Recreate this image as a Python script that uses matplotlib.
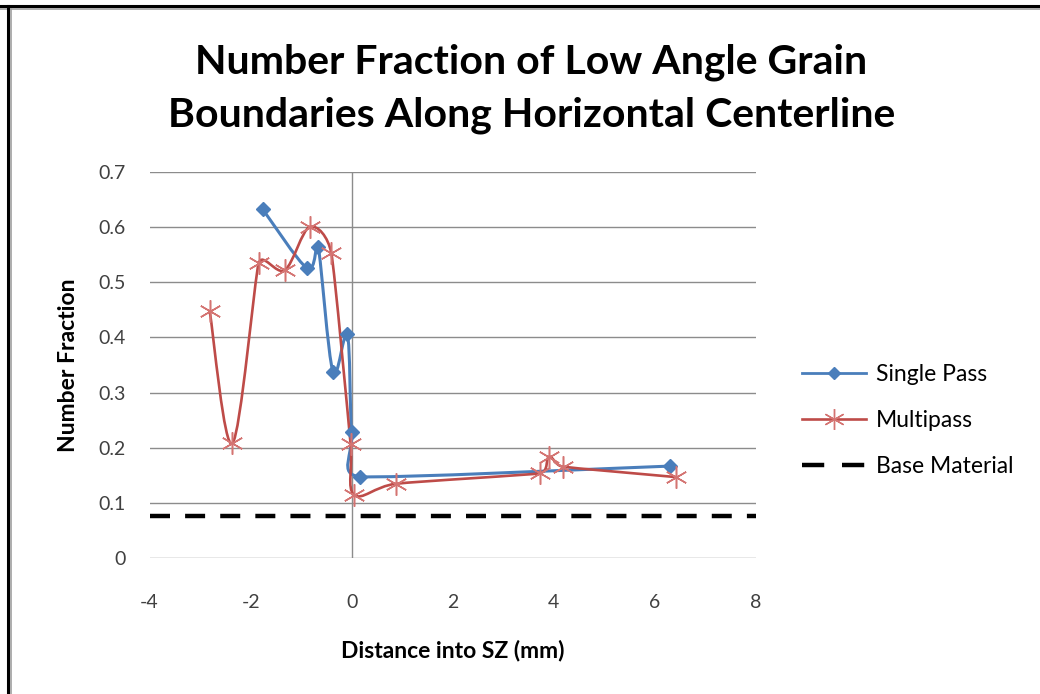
# number fraction of low angle grain boundaries along the horizontal centerline
import numpy as np
import matplotlib
matplotlib.use("Agg")
import matplotlib.pyplot as plt
from matplotlib.path import Path
from matplotlib.patches import PathPatch
from matplotlib.lines import Line2D

plt.rcParams['font.family'] = ['Lato', 'DejaVu Sans']
plt.rcParams['axes.unicode_minus'] = False

# --- data ---
single_x = [-1.76, -0.88, -0.66, -0.37, -0.085, 0.0, 0.16, 6.30]
single_y = [0.632, 0.525, 0.563, 0.338, 0.406, 0.228, 0.148, 0.167]

multi_x = [-2.81, -2.36, -1.84, -1.32, -0.83, -0.40, -0.02, 0.05, 0.88, 3.73, 3.91, 4.18, 6.43]
multi_y = [0.448, 0.208, 0.534, 0.522, 0.600, 0.552, 0.207, 0.115, 0.135, 0.154, 0.184, 0.166, 0.147]

base_level = 0.076

x_ticks = [-4, -2, 0, 2, 4, 6, 8]
y_ticks = [0, 0.1, 0.2, 0.3, 0.4, 0.5, 0.6, 0.7]
y_ticklabels = ["0", "0.1", "0.2", "0.3", "0.4", "0.5", "0.6", "0.7"]

BLUE = "#4A7EBB"
RED = "#BE4B48"
RED_MK = "#D47472"
GRID = "#8C8C8C"


def excel_smooth(ax, x, y):
    """bezier path like excel's 'smoothed line' (tangent = neighbours/6, capped at half segment)"""
    p = ax.transData.transform(np.column_stack([x, y]))
    n = len(p)

    def tangent(i):
        a = p[max(i - 1, 0)]
        b = p[min(i + 1, n - 1)]
        t = b - a
        L = np.hypot(*t)
        if L == 0:
            return np.zeros(2)
        caps = [L / 6.0]
        if i > 0:
            caps.append(np.hypot(*(p[i] - p[i - 1])) / 2.0)
        if i < n - 1:
            caps.append(np.hypot(*(p[i + 1] - p[i])) / 2.0)
        return t / L * min(caps)

    verts = [p[0]]
    codes = [Path.MOVETO]
    for i in range(n - 1):
        verts += [p[i] + tangent(i), p[i + 1] - tangent(i + 1), p[i + 1]]
        codes += [Path.CURVE4] * 3
    verts = ax.transData.inverted().transform(np.array(verts))
    return Path(verts, codes)


fig = plt.figure(figsize=(10.4, 6.94), dpi=100)
fig.patch.set_facecolor("white")
ax = fig.add_axes([0.1438, 0.1955, 0.5828, 0.5571])

ax.set_xlim(-4, 8)
ax.set_ylim(0, 0.7)
ax.set_xticks(x_ticks)
ax.set_yticks(y_ticks)
ax.set_yticklabels(y_ticklabels)
for s in ax.spines.values():
    s.set_visible(False)
ax.grid(axis="y", color=GRID, lw=1.0)
ax.set_axisbelow(True)
ax.axvline(0, color=GRID, lw=1.0, zorder=1)
ax.tick_params(axis="both", length=0, labelsize=14, labelcolor="#404040")
ax.tick_params(axis="y", pad=17)
ax.tick_params(axis="x", pad=26)

# base material reference
ax.axhline(base_level, color="black", lw=3.2, dashes=(4.5, 3.4), dash_capstyle="butt", zorder=2)

# smoothed series
ax.add_patch(PathPatch(excel_smooth(ax, single_x, single_y), fill=False,
                       edgecolor=BLUE, lw=2.2, zorder=3))
ax.plot(single_x, single_y, ls="none", marker="D", ms=7, color=BLUE, zorder=4)

ax.add_patch(PathPatch(excel_smooth(ax, multi_x, multi_y), fill=False,
                       edgecolor=RED, lw=1.9, zorder=3))
ax.plot(multi_x, multi_y, ls="none", marker=(6, 2, 0), ms=16, mew=1.1,
        color=RED_MK, zorder=4)

ax.set_xlabel("Distance into SZ (mm)", fontsize=16.5, fontweight="bold", labelpad=20)
ax.set_ylabel("Number Fraction", fontsize=16.5, fontweight="bold", labelpad=14)

fig.text(0.511, 0.872, "Number Fraction of Low Angle Grain\nBoundaries Along Horizontal Centerline",
         ha="center", va="center", fontsize=29.5, fontweight="bold", linespacing=1.5)

handles = [
    Line2D([], [], color=BLUE, lw=2.0, marker="D", ms=6),
    Line2D([], [], color=RED, lw=1.9, marker=(6, 2, 0), ms=15, mew=1.0, mec=RED_MK),
    Line2D([], [], color="black", lw=3.2, dashes=(5.0, 4.0)),
]
fig.legend(handles, ["Single Pass", "Multipass", "Base Material"],
           loc="center left", bbox_to_anchor=(0.771, 0.394), frameon=False,
           fontsize=16.5, handlelength=2.8, handletextpad=0.45, labelspacing=1.1,
           borderpad=0, borderaxespad=0)

# outer frame (top + left, as in the original)
fig.add_artist(Line2D([0, 1], [0.991, 0.991], transform=fig.transFigure, color="black", lw=2.2))
fig.add_artist(Line2D([0, 1], [0.987, 0.987], transform=fig.transFigure, color="#A0A0A0", lw=1.2))
fig.add_artist(Line2D([0.0075, 0.0075], [0, 0.991], transform=fig.transFigure, color="black", lw=2.2))
fig.add_artist(Line2D([0.0105, 0.0105], [0, 0.987], transform=fig.transFigure, color="#A0A0A0", lw=1.2))

plt.savefig("out.png", dpi=100, facecolor=fig.get_facecolor())
plt.close()
